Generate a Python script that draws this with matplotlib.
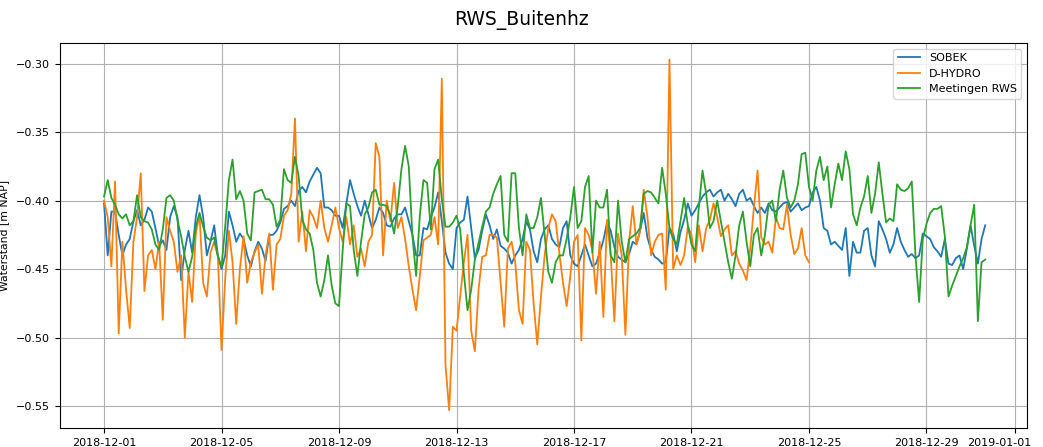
import matplotlib
matplotlib.use("Agg")
import matplotlib.pyplot as plt
import matplotlib.dates as mdates
import matplotlib.transforms as mtransforms
import pandas as pd

# waterstanden, 3-uurs waarden vanaf 2018-12-01 00:00
sobek = [
    -0.402, -0.440, -0.408, -0.408, -0.425, -0.440, -0.432, -0.428,
    -0.415, -0.407, -0.418, -0.414, -0.405, -0.408, -0.420, -0.433,
    -0.429, -0.436, -0.412, -0.404, -0.412, -0.458, -0.436, -0.422,
    -0.438, -0.412, -0.396, -0.412, -0.440, -0.430, -0.418, -0.440,
    -0.450, -0.440, -0.408, -0.418, -0.430, -0.424, -0.428, -0.440,
    -0.448, -0.437, -0.430, -0.435, -0.444, -0.425, -0.425, -0.422,
    -0.416, -0.406, -0.404, -0.400, -0.404, -0.393, -0.390, -0.394,
    -0.386, -0.381, -0.376, -0.380, -0.405, -0.405, -0.407, -0.411,
    -0.411, -0.420, -0.402, -0.385, -0.395, -0.404, -0.411, -0.400,
    -0.410, -0.420, -0.414, -0.405, -0.409, -0.418, -0.419, -0.413,
    -0.410, -0.410, -0.405, -0.415, -0.425, -0.440, -0.440, -0.420,
    -0.421, -0.412, -0.405, -0.394, -0.415, -0.438, -0.446, -0.450,
    -0.420, -0.416, -0.414, -0.397, -0.420, -0.442, -0.436, -0.422,
    -0.410, -0.418, -0.428, -0.421, -0.433, -0.435, -0.438, -0.446,
    -0.440, -0.436, -0.428, -0.415, -0.421, -0.437, -0.445, -0.428,
    -0.421, -0.418, -0.428, -0.432, -0.434, -0.420, -0.415, -0.440,
    -0.446, -0.448, -0.440, -0.432, -0.440, -0.448, -0.446, -0.438,
    -0.429, -0.416, -0.422, -0.434, -0.441, -0.443, -0.445, -0.439,
    -0.430, -0.432, -0.422, -0.409, -0.427, -0.436, -0.441, -0.443,
    -0.446, -0.445, -0.420, -0.424, -0.437, -0.423, -0.414, -0.402,
    -0.411, -0.407, -0.402, -0.397, -0.394, -0.392, -0.397, -0.394,
    -0.392, -0.400, -0.395, -0.399, -0.404, -0.395, -0.392, -0.400,
    -0.398, -0.404, -0.409, -0.405, -0.409, -0.402, -0.407, -0.408,
    -0.405, -0.402, -0.401, -0.408, -0.405, -0.402, -0.407, -0.405,
    -0.404, -0.394, -0.390, -0.400, -0.420, -0.422, -0.432, -0.430,
    -0.433, -0.436, -0.420, -0.455, -0.430, -0.438, -0.438, -0.422,
    -0.420, -0.440, -0.448, -0.415, -0.421, -0.428, -0.438, -0.432,
    -0.420, -0.430, -0.436, -0.441, -0.439, -0.442, -0.440, -0.424,
    -0.426, -0.428, -0.434, -0.437, -0.441, -0.428, -0.446, -0.447,
    -0.442, -0.440, -0.450, -0.435, -0.418, -0.433, -0.446, -0.428,
    -0.418,
]

dhydro = [
    -0.400, -0.412, -0.448, -0.386, -0.497, -0.430, -0.465, -0.493,
    -0.430, -0.412, -0.380, -0.466, -0.440, -0.436, -0.450, -0.430,
    -0.487, -0.412, -0.422, -0.430, -0.452, -0.440, -0.500, -0.452,
    -0.474, -0.424, -0.410, -0.460, -0.470, -0.438, -0.430, -0.440,
    -0.509, -0.457, -0.422, -0.445, -0.490, -0.450, -0.426, -0.460,
    -0.445, -0.438, -0.432, -0.468, -0.440, -0.424, -0.465, -0.432,
    -0.428, -0.411, -0.407, -0.395, -0.340, -0.430, -0.408, -0.437,
    -0.407, -0.412, -0.420, -0.400, -0.420, -0.430, -0.418, -0.405,
    -0.420, -0.430, -0.412, -0.432, -0.418, -0.441, -0.435, -0.448,
    -0.430, -0.425, -0.358, -0.368, -0.440, -0.400, -0.415, -0.387,
    -0.420, -0.412, -0.428, -0.448, -0.465, -0.480, -0.455, -0.429,
    -0.427, -0.425, -0.412, -0.432, -0.311, -0.520, -0.553, -0.492,
    -0.495, -0.470, -0.445, -0.425, -0.495, -0.510, -0.465, -0.441,
    -0.440, -0.425, -0.425, -0.427, -0.460, -0.492, -0.435, -0.430,
    -0.445, -0.480, -0.490, -0.430, -0.436, -0.475, -0.505, -0.470,
    -0.440, -0.420, -0.410, -0.415, -0.438, -0.460, -0.477, -0.455,
    -0.430, -0.425, -0.502, -0.420, -0.425, -0.436, -0.468, -0.430,
    -0.485, -0.414, -0.440, -0.488, -0.424, -0.440, -0.498, -0.430,
    -0.404, -0.432, -0.422, -0.392, -0.412, -0.440, -0.430, -0.425,
    -0.424, -0.465, -0.297, -0.450, -0.440, -0.447, -0.440, -0.419,
    -0.425, -0.445, -0.418, -0.437, -0.420, -0.414, -0.402, -0.412,
    -0.426, -0.421, -0.418, -0.440, -0.437, -0.446, -0.451, -0.458,
    -0.435, -0.405, -0.378, -0.427, -0.432, -0.430, -0.438, -0.412,
    -0.420, -0.421, -0.403, -0.425, -0.439, -0.435, -0.420, -0.440,
    -0.445,
]

meetingen = [
    -0.397, -0.385, -0.398, -0.403, -0.410, -0.413, -0.410, -0.418,
    -0.415, -0.396, -0.412, -0.415, -0.416, -0.421, -0.432, -0.436,
    -0.421, -0.398, -0.396, -0.400, -0.414, -0.426, -0.441, -0.452,
    -0.441, -0.419, -0.409, -0.419, -0.427, -0.429, -0.427, -0.441,
    -0.448, -0.419, -0.385, -0.370, -0.399, -0.393, -0.400, -0.424,
    -0.429, -0.394, -0.393, -0.392, -0.399, -0.399, -0.403, -0.419,
    -0.414, -0.377, -0.385, -0.387, -0.368, -0.382, -0.414, -0.421,
    -0.424, -0.436, -0.460, -0.470, -0.458, -0.440, -0.462, -0.475,
    -0.477, -0.436, -0.402, -0.404, -0.436, -0.455, -0.430, -0.410,
    -0.405, -0.394, -0.392, -0.403, -0.403, -0.404, -0.411, -0.424,
    -0.404, -0.377, -0.360, -0.375, -0.426, -0.455, -0.411, -0.385,
    -0.387, -0.421, -0.377, -0.370, -0.399, -0.419, -0.419, -0.416,
    -0.411, -0.421, -0.453, -0.480, -0.465, -0.443, -0.431, -0.419,
    -0.408, -0.405, -0.395, -0.388, -0.382, -0.425, -0.430, -0.380,
    -0.380, -0.420, -0.440, -0.410, -0.420, -0.420, -0.412, -0.398,
    -0.425, -0.452, -0.460, -0.445, -0.440, -0.440, -0.428, -0.412,
    -0.390, -0.420, -0.415, -0.390, -0.382, -0.438, -0.400, -0.405,
    -0.405, -0.392, -0.440, -0.445, -0.400, -0.430, -0.445, -0.428,
    -0.426, -0.424, -0.420, -0.395, -0.393, -0.394, -0.398, -0.402,
    -0.376, -0.395, -0.420, -0.428, -0.432, -0.415, -0.398, -0.418,
    -0.432, -0.437, -0.405, -0.378, -0.395, -0.420, -0.415, -0.400,
    -0.415, -0.430, -0.445, -0.457, -0.440, -0.418, -0.408, -0.430,
    -0.448, -0.425, -0.420, -0.440, -0.425, -0.403, -0.400, -0.415,
    -0.392, -0.378, -0.398, -0.405, -0.400, -0.388, -0.366, -0.365,
    -0.390, -0.400, -0.378, -0.368, -0.385, -0.375, -0.405, -0.388,
    -0.373, -0.385, -0.364, -0.377, -0.410, -0.418, -0.405, -0.397,
    -0.382, -0.409, -0.395, -0.372, -0.395, -0.416, -0.413, -0.415,
    -0.388, -0.392, -0.393, -0.391, -0.386, -0.440, -0.474, -0.428,
    -0.417, -0.409, -0.406, -0.406, -0.404, -0.426, -0.470, -0.462,
    -0.455, -0.448, -0.442, -0.434, -0.418, -0.403, -0.488, -0.445,
    -0.443,
]

t_sobek = pd.date_range("2018-12-01", periods=len(sobek), freq="3h")
t_dhydro = pd.date_range("2018-12-01", periods=len(dhydro), freq="3h")
t_meet = pd.date_range("2018-12-01", periods=len(meetingen), freq="3h")

fig = plt.figure(figsize=(10.43, 4.47), dpi=100)
ax = fig.add_axes([0.0575, 0.0425, 0.927, 0.861])

ax.plot(t_sobek, sobek, color='tab:blue', linewidth=1.3, label='SOBEK')
ax.plot(t_dhydro, dhydro, color='tab:orange', linewidth=1.3, label='D-HYDRO')
ax.plot(t_meet, meetingen, color='tab:green', linewidth=1.3, label='Meetingen RWS')

ax.set_ylim(-0.566, -0.285)
ax.set_xlim(pd.Timestamp("2018-11-29 12:00"), pd.Timestamp("2019-01-01 10:00"))
ax.xaxis.set_major_locator(mdates.DayLocator(bymonthday=[1, 5, 9, 13, 17, 21, 25, 29]))
ax.xaxis.set_major_formatter(mdates.DateFormatter('%Y-%m-%d'))
ax.set_yticks([-0.30, -0.35, -0.40, -0.45, -0.50, -0.55])
ax.tick_params(labelsize=8)
ax.set_ylabel('Waterstand [m NAP]', fontsize=7.8, labelpad=5)
ax.grid(True)
ax.legend(loc='upper right', fontsize=8)

# laatste datumlabel iets naar links zodat het binnen de figuur valt
fig.canvas.draw()
laatste = ax.get_xticklabels()[-1]
laatste.set_transform(laatste.get_transform()
                      + mtransforms.ScaledTranslation(-0.15, 0, fig.dpi_scale_trans))

fig.suptitle('RWS_Buitenhz', fontsize=13.5, y=0.978)
plt.savefig("out.png", dpi=100)
